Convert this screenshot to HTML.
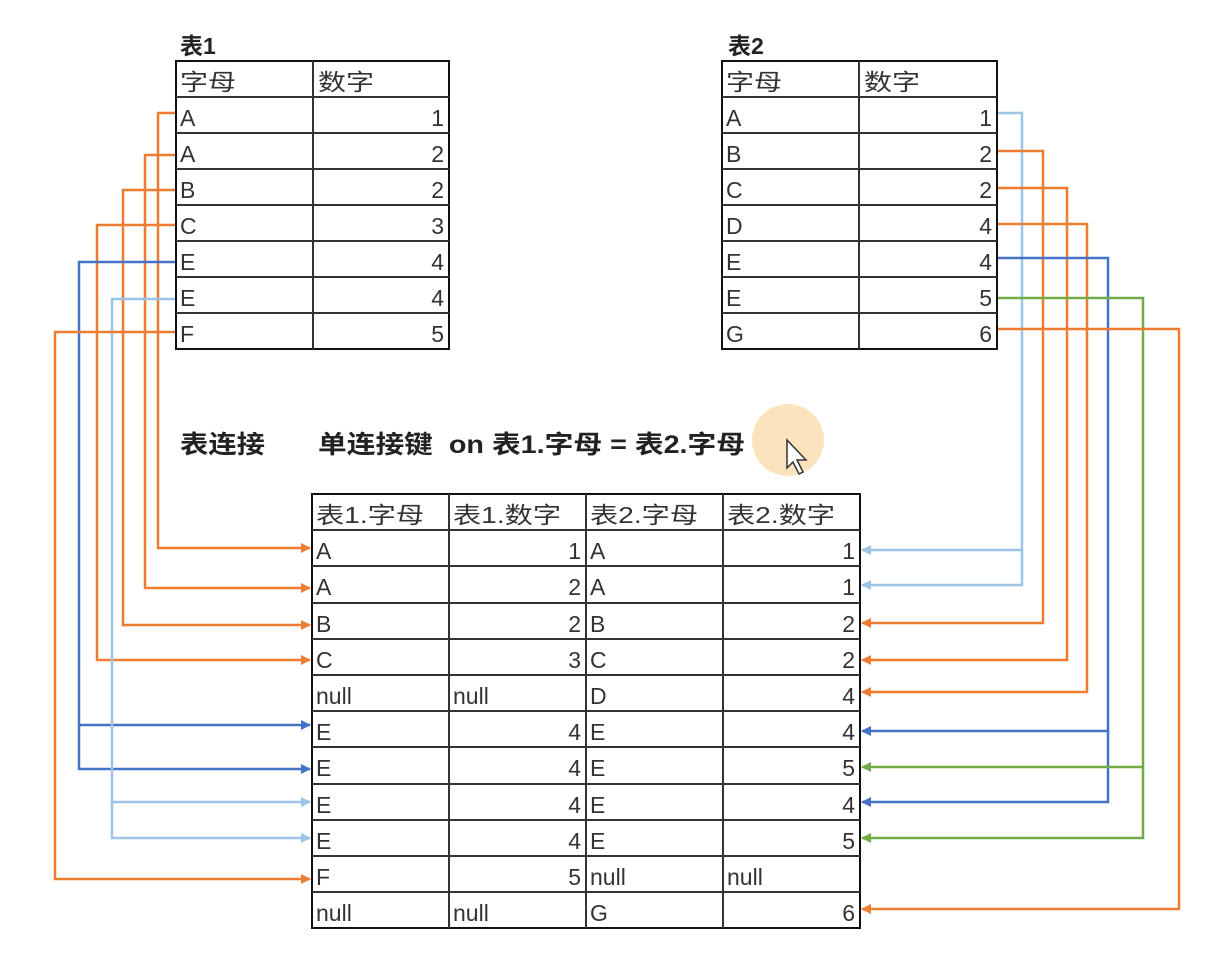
<!DOCTYPE html>
<html><head><meta charset="utf-8"><style>
html,body{margin:0;padding:0;background:#fff;}
svg{display:block;font-family:"Liberation Sans","Noto Sans CJK SC",sans-serif;}
.t{font-size:23px;fill:#333;}
.b{font-size:23px;font-weight:bold;fill:#222;}
</style></head><body>
<svg width="1226" height="969" viewBox="0 0 1226 969" xmlns="http://www.w3.org/2000/svg">
<defs>
<marker id="mo" markerWidth="10" markerHeight="10" refX="9" refY="5" orient="auto" markerUnits="userSpaceOnUse"><path d="M0,0L10,5L0,10z" fill="#ed7d31"/></marker>
<marker id="mb" markerWidth="10" markerHeight="10" refX="9" refY="5" orient="auto" markerUnits="userSpaceOnUse"><path d="M0,0L10,5L0,10z" fill="#4472c4"/></marker>
<marker id="ml" markerWidth="10" markerHeight="10" refX="9" refY="5" orient="auto" markerUnits="userSpaceOnUse"><path d="M0,0L10,5L0,10z" fill="#9dc3e6"/></marker>
<marker id="mg" markerWidth="10" markerHeight="10" refX="9" refY="5" orient="auto" markerUnits="userSpaceOnUse"><path d="M0,0L10,5L0,10z" fill="#70ad47"/></marker>
</defs>
<circle cx="788" cy="440" r="36" fill="#fbe3bd"/>
<g fill="none" stroke-width="2.5">
<path d="M176,113H158V548H310" stroke="#ed7d31" marker-end="url(#mo)"/>
<path d="M176,155H145V588H310" stroke="#ed7d31" marker-end="url(#mo)"/>
<path d="M176,190H123V625H310" stroke="#ed7d31" marker-end="url(#mo)"/>
<path d="M176,225H97V660H310" stroke="#ed7d31" marker-end="url(#mo)"/>
<path d="M176,262H79V725H310" stroke="#4472c4" marker-end="url(#mb)"/>
<path d="M79,725V769H310" stroke="#4472c4" marker-end="url(#mb)"/>
<path d="M176,299H112V802H310" stroke="#9dc3e6" marker-end="url(#ml)"/>
<path d="M112,802V838H310" stroke="#9dc3e6" marker-end="url(#ml)"/>
<path d="M176,332H55V879H310" stroke="#ed7d31" marker-end="url(#mo)"/>
<path d="M997,113H1022V550H862" stroke="#9dc3e6" marker-end="url(#ml)"/>
<path d="M1022,550V585H862" stroke="#9dc3e6" marker-end="url(#ml)"/>
<path d="M997,151H1043V623H862" stroke="#ed7d31" marker-end="url(#mo)"/>
<path d="M997,188H1067V660H862" stroke="#ed7d31" marker-end="url(#mo)"/>
<path d="M997,224H1087V692H862" stroke="#ed7d31" marker-end="url(#mo)"/>
<path d="M997,258H1108V731H862" stroke="#4472c4" marker-end="url(#mb)"/>
<path d="M1108,731V802H862" stroke="#4472c4" marker-end="url(#mb)"/>
<path d="M997,298H1143V767H862" stroke="#70ad47" marker-end="url(#mg)"/>
<path d="M1143,767V838H862" stroke="#70ad47" marker-end="url(#mg)"/>
<path d="M997,329H1179V909H862" stroke="#ed7d31" marker-end="url(#mo)"/>
</g>
<text x="180" y="54" class="b">表1</text>
<g stroke="#333" stroke-width="2" fill="none">
<rect x="176" y="61" width="273" height="288" stroke="#111"/>
<line x1="313" y1="61" x2="313" y2="349"/>
<path d="M176,97H449M176,133H449M176,169H449M176,205H449M176,241H449M176,277H449M176,313H449"/>
<rect x="722" y="61" width="275" height="288" stroke="#111"/>
<line x1="859" y1="61" x2="859" y2="349"/>
<path d="M722,97H997M722,133H997M722,169H997M722,205H997M722,241H997M722,277H997M722,313H997"/>
<rect x="312" y="494" width="548" height="434" stroke="#111"/>
<path d="M449,494V928M586,494V928M723,494V928"/>
<path d="M312,530H860M312,566H860M312,603H860M312,639H860M312,675H860M312,711H860M312,747H860M312,784H860M312,820H860M312,856H860M312,892H860"/>
</g>
<g class="t">
<text x="180" y="90" textLength="56" lengthAdjust="spacingAndGlyphs">字母</text><text x="318" y="90" textLength="56" lengthAdjust="spacingAndGlyphs">数字</text>
<text x="180" y="126">A</text><text x="180" y="162">A</text><text x="180" y="198">B</text><text x="180" y="234">C</text><text x="180" y="270">E</text><text x="180" y="306">E</text><text x="180" y="342">F</text>
</g>
<g class="t" text-anchor="end">
<text x="444" y="126">1</text><text x="444" y="162">2</text><text x="444" y="198">2</text><text x="444" y="234">3</text><text x="444" y="270">4</text><text x="444" y="306">4</text><text x="444" y="342">5</text>
</g>
<text x="728" y="54" class="b">表2</text>
<g class="t">
<text x="726" y="90" textLength="56" lengthAdjust="spacingAndGlyphs">字母</text><text x="864" y="90" textLength="56" lengthAdjust="spacingAndGlyphs">数字</text>
<text x="726" y="126">A</text><text x="726" y="162">B</text><text x="726" y="198">C</text><text x="726" y="234">D</text><text x="726" y="270">E</text><text x="726" y="306">E</text><text x="726" y="342">G</text>
</g>
<g class="t" text-anchor="end">
<text x="992" y="126">1</text><text x="992" y="162">2</text><text x="992" y="198">2</text><text x="992" y="234">4</text><text x="992" y="270">4</text><text x="992" y="306">5</text><text x="992" y="342">6</text>
</g>
<text x="180" y="453" class="b" style="font-size:25px" textLength="85" lengthAdjust="spacingAndGlyphs">表连接</text>
<text x="318" y="453" class="b" style="font-size:25px" textLength="427" lengthAdjust="spacingAndGlyphs">单连接键 &#160;on 表1.字母 = 表2.字母</text>
<path d="M787,440L787,468L793,462L799,474L803,472L797,460L806,460Z" fill="#fff" stroke="#333" stroke-width="1.5"/>
<g class="t">
<text x="316" y="523" textLength="108" lengthAdjust="spacingAndGlyphs">表1.字母</text><text x="453" y="523" textLength="108" lengthAdjust="spacingAndGlyphs">表1.数字</text><text x="590" y="523" textLength="108" lengthAdjust="spacingAndGlyphs">表2.字母</text><text x="727" y="523" textLength="108" lengthAdjust="spacingAndGlyphs">表2.数字</text>
<text x="316" y="559">A</text><text x="590" y="559">A</text>
<text x="316" y="595">A</text><text x="590" y="595">A</text>
<text x="316" y="632">B</text><text x="590" y="632">B</text>
<text x="316" y="668">C</text><text x="590" y="668">C</text>
<text x="316" y="704">null</text><text x="453" y="704">null</text><text x="590" y="704">D</text>
<text x="316" y="740">E</text><text x="590" y="740">E</text>
<text x="316" y="776">E</text><text x="590" y="776">E</text>
<text x="316" y="813">E</text><text x="590" y="813">E</text>
<text x="316" y="849">E</text><text x="590" y="849">E</text>
<text x="316" y="885">F</text><text x="590" y="885">null</text><text x="727" y="885">null</text>
<text x="316" y="921">null</text><text x="453" y="921">null</text><text x="590" y="921">G</text>
</g>
<g class="t" text-anchor="end">
<text x="581" y="559">1</text><text x="855" y="559">1</text>
<text x="581" y="595">2</text><text x="855" y="595">1</text>
<text x="581" y="632">2</text><text x="855" y="632">2</text>
<text x="581" y="668">3</text><text x="855" y="668">2</text>
<text x="855" y="704">4</text>
<text x="581" y="740">4</text><text x="855" y="740">4</text>
<text x="581" y="776">4</text><text x="855" y="776">5</text>
<text x="581" y="813">4</text><text x="855" y="813">4</text>
<text x="581" y="849">4</text><text x="855" y="849">5</text>
<text x="581" y="885">5</text>
<text x="855" y="921">6</text>
</g>
</svg>
</body></html>
